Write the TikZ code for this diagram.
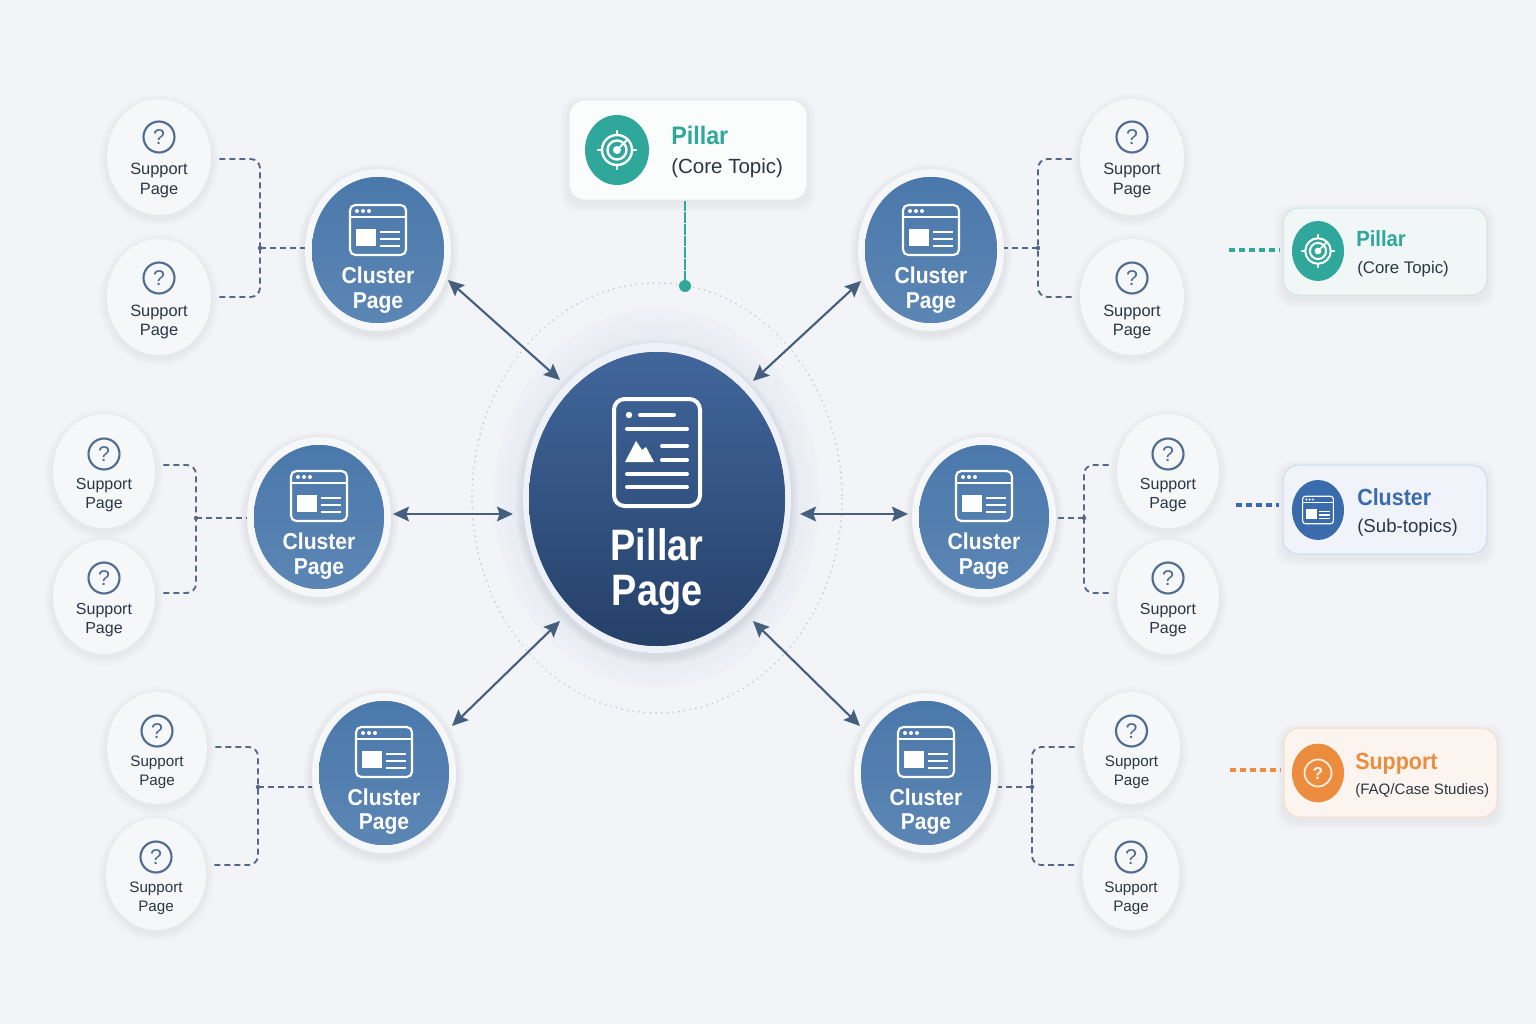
\documentclass[tikz,border=0pt]{standalone}
\usepackage{fontspec}
\setmainfont{Liberation Sans}
\newfontfamily\bfn[FakeStretch=0.92]{Liberation Sans}
\newfontfamily\bfp[FakeStretch=0.86]{Liberation Sans}
\usetikzlibrary{arrows.meta,shapes.geometric,calc}
\definecolor{bgc}{HTML}{F3F4F7}
\definecolor{ringc}{HTML}{F6F7F9}
\definecolor{icoc}{HTML}{4F6C91}
\definecolor{txtc}{HTML}{2C3645}
\definecolor{arrc}{HTML}{45607F}
\definecolor{dashc}{HTML}{56688A}
\definecolor{tealc}{HTML}{2FA79A}
\definecolor{bluec}{HTML}{3A6BAD}
\definecolor{orangec}{HTML}{EC8C3E}
\definecolor{cluT}{HTML}{4B78AB}
\definecolor{cluB}{HTML}{5B86B4}
\definecolor{halA}{HTML}{E6EAF2}
\definecolor{halB}{HTML}{EFF1F6}
\definecolor{dotc}{HTML}{C6CAD4}
\definecolor{pilR}{HTML}{EEF2F8}
\definecolor{pilT}{HTML}{41669B}
\definecolor{pilB}{HTML}{254069}
\definecolor{topD}{HTML}{E6E8EC}
\definecolor{topF}{HTML}{FBFCFC}
\definecolor{l1D}{HTML}{CFE5E0}
\definecolor{l1F}{HTML}{F0F7F6}
\definecolor{l2D}{HTML}{CDD9EC}
\definecolor{l2F}{HTML}{F0F4FA}
\definecolor{l3D}{HTML}{F6DCC5}
\definecolor{l3F}{HTML}{FCF5EF}
\definecolor{l3I}{HTML}{FDF0E4}
\tikzset{
  x=0.75pt,y=-0.75pt,
  supnode/.style={ellipse,fill=ringc,inner sep=0pt},
  clunode/.style={ellipse,fill=ringc,inner sep=0pt},
  suptext/.style={anchor=base,text=txtc,inner sep=0pt},
  clutext/.style={anchor=base,text=white,inner sep=0pt,font=\fontsize{17.2}{20}\bfn\bfseries},
  pilltext/.style={anchor=base,text=white,inner sep=0pt,font=\fontsize{33}{36}\bfp\bfseries},
  legbox/.style={rounded corners=12pt,inner sep=0pt,line width=0.75pt},
  legtitle/.style={anchor=base west,inner sep=0pt},
  legsub/.style={anchor=base west,inner sep=0pt,text=txtc},
  dblarrow/.style={{Stealth[length=12pt,width=11pt,inset=2pt]}-{Stealth[length=12pt,width=11pt,inset=2pt]},draw=arrc,line width=1.6pt},
  brk/.style={draw=dashc,line width=1.4pt,dash pattern=on 4.5pt off 3pt,rounded corners=7pt},
  legdash/.style={line width=2.3pt,dash pattern=on 4.5pt off 3pt},
}
% name cx cy rx ry iconDy textDy fontsize
\newcommand\SupNode[8]{%
  \begin{scope}[shift={(#2,#3)}]
    \foreach \k in {8,6,4,2}{\fill[black,opacity=.012] (0,3) ellipse [x radius=#4+\k,y radius=#5+\k];}
    \node[supnode,minimum width=#4*1.5pt,minimum height=#5*1.5pt] (#1) at (0,0) {};
    \draw[icoc,line width=1.6pt] (0,#6) circle [radius=15.5];
    \node[inner sep=0pt,text=icoc,font=\fontsize{16}{16}\selectfont] (#1-q) at (0,#6) {?};
    \node[suptext,font=\fontsize{#8}{14}\selectfont] (#1-a) at (0,#7) {Support};
    \node[suptext,font=\fontsize{#8}{14}\selectfont] (#1-b) at (0,#7+19) {Page};
  \end{scope}}
% browser icon, scaled
\newcommand\Browser[4]{% x y scale color
  \begin{scope}[shift={(#1,#2)},scale=#3]
    \draw[#4,line width=#3*1.6pt,rounded corners=#3*4pt] (-28,-25) rectangle (28,25);
    \draw[#4,line width=#3*1.5pt] (-28,-13) -- (28,-13);
    \foreach \q in {-21,-15,-9}{\fill[#4] (\q,-19) circle [radius=2];}
    \fill[#4] (-22,-1) rectangle (-2,16);
    \foreach \q in {2,9,16}{\draw[#4,line width=#3*1.5pt] (2,\q) -- (22,\q);}
  \end{scope}}
% name cx cy ox oy iconDy t1Dy t2Dy
\newcommand\CluNode[8]{%
  \begin{scope}[shift={(#2,#3)}]
    \foreach \k in {8,6,4,2}{\fill[black,opacity=.014] (0,3) ellipse [x radius=#4+\k,y radius=#5+\k];}
    \node[clunode,minimum width=#4*1.5pt,minimum height=#5*1.5pt] (#1) at (0,0) {};
    \fill[cluT!50!cluB] (0,0) ellipse [x radius=#4-7,y radius=#5-8];
    \shade[top color=cluT,bottom color=cluB] (0,0) ellipse [x radius=#4-7,y radius=#5-8];
  \end{scope}
  \Browser{#2}{#3+#6}{1}{white}
  \begin{scope}[shift={(#2,#3)}]
    \node[clutext] (#1-a) at (0,#7) {Cluster};
    \node[clutext] (#1-b) at (0,#8) {Page};
  \end{scope}}
\newcommand\Target[4]{% x y scale color
  \begin{scope}[shift={(#1,#2)},scale=#3]
    \draw[#4,line width=#3*1.8pt] (0,0) circle [radius=15];
    \draw[#4,line width=#3*1.8pt] (0,0) circle [radius=9.5];
    \fill[#4] (0,0) circle [radius=4];
    \draw[#4,line width=#3*1.4pt] (0,0) -- (10.5,-10.5);
    \foreach \q/\w/\e/\f in {0/-19/0/-15,0/19/0/15,-19/0/-15/0,19/0/15/0}{\draw[#4,line width=#3*1.8pt,line cap=round] (\q,\w) -- (\e,\f);}
  \end{scope}}
% s1 s2 side cluster cside jx ly1 ly2 jy
\newcommand\Brk[9]{%
  \coordinate (#1-j) at (#6,#9);
  \draw[brk,shorten <=6pt] (#1.#3 |- 0,#7) -- (#6,#7) -- (#1-j);
  \draw[brk,shorten <=6pt] (#2.#3 |- 0,#8) -- (#6,#8) -- (#1-j);
  \draw[brk,rounded corners=0pt] (#1-j) -- (#4.#5 |- #1-j);
  \fill[dashc] (#1-j) circle [radius=2.2];}
\newcommand\Shad[5]{% x1 y1 x2 y2 r
  \foreach \k in {8,6,4,2}{\fill[black,opacity=.012,rounded corners=#5pt] (#1-\k,#2-\k+4) rectangle (#3+\k,#4+\k+4);}}
\begin{document}
\begin{tikzpicture}
\useasboundingbox (0,0) rectangle (1536,1024);
\fill[bgc] (0,0) rectangle (1536,1024);
% halo and pillar
\foreach \t in {0,1,...,10}{\fill[halA!\the\numexpr\t*10\relax!halB] (657,498) ellipse [x radius=163-\t*3,y radius=190-\t*3.6];}
\draw[dotc,line width=1.2pt,line cap=round,dash pattern=on 0.3pt off 4pt] (657,498) ellipse [x radius=185,y radius=215];
\foreach \k in {8,6,4,2}{\fill[black,opacity=.014] (657,502) ellipse [x radius=134+\k,y radius=155+\k];}
\node[ellipse,fill=pilR,inner sep=0pt,minimum width=201pt,minimum height=232.5pt] (pillar) at (657,498) {};
\fill[pilT!50!pilB] (657,499) ellipse [x radius=128,y radius=147];
\shade[top color=pilT,bottom color=pilB] (657,499) ellipse [x radius=128,y radius=147];
% document icon
\draw[white,line width=3pt,rounded corners=8pt] (614,399) rectangle (700,506);
\fill[white] (629,415) circle [radius=3.2];
\foreach \a/\b/\c in {640/674/415,627/687/429,662/687/446,662/687/460,627/687/474,627/687/487}{\draw[white,line width=3pt,line cap=round] (\a,\c) -- (\b,\c);}
\fill[white,line join=round] (625,462) -- (636,441) -- (642,450) -- (646,447) -- (654,462) -- cycle;
\node[pilltext] (pillar-a) at (657,560) {Pillar};
\node[pilltext] (pillar-b) at (657,605) {Page};
% clusters
\CluNode{cTL}{378}{250}{73}{81}{-20}{33}{58}
\CluNode{cTR}{931}{250}{73}{81}{-20}{33}{58}
\CluNode{cL}{319}{517}{72}{80}{-21}{32}{57}
\CluNode{cR}{984}{517}{72}{80}{-21}{32}{57}
\CluNode{cBL}{384}{773}{72}{80}{-21}{32}{56}
\CluNode{cBR}{926}{773}{72}{80}{-21}{32}{56}
% support
\SupNode{s1}{159}{157}{52}{58}{-20}{18}{12.3}
\SupNode{s2}{159}{297}{52}{58}{-19}{19}{12.3}
\SupNode{s3}{1132}{157}{52}{58}{-20}{18}{12.3}
\SupNode{s4}{1132}{297}{52}{58}{-19}{19}{12.3}
\SupNode{s5}{104}{471}{51}{57}{-17}{18}{12}
\SupNode{s6}{104}{597}{51}{57}{-19}{17}{12}
\SupNode{s7}{1168}{471}{51}{57}{-17}{18}{12}
\SupNode{s8}{1168}{597}{51}{57}{-19}{17}{12}
\SupNode{s9}{157}{748}{50}{56}{-17}{18}{11.4}
\SupNode{s10}{156}{874}{50}{56}{-17}{18}{11.4}
\SupNode{s11}{1131.5}{748}{48.5}{56}{-17}{18}{11.4}
\SupNode{s12}{1131}{874}{48.5}{56}{-17}{18}{11.4}
% dashed brackets
\Brk{s1}{s2}{east}{cTL}{west}{260}{159}{297}{248}
\Brk{s3}{s4}{west}{cTR}{east}{1038}{159}{297}{248}
\Brk{s5}{s6}{east}{cL}{west}{196}{465}{593}{518}
\Brk{s7}{s8}{west}{cR}{east}{1084}{465}{593}{518}
\Brk{s9}{s10}{east}{cBL}{west}{258}{747}{865}{787}
\Brk{s11}{s12}{west}{cBR}{east}{1032}{747}{865}{787}
% arrows
\draw[dblarrow] ($(cTL)+(70,30)$) -- ($(pillar)+(-97,-118)$);
\draw[dblarrow] ($(cTR)+(-70,31)$) -- ($(pillar)+(96,-117)$);
\draw[dblarrow] ($(cL)+(74,-3)$) -- ($(pillar)+(-144,16)$);
\draw[dblarrow] ($(cR)+(-76,-3)$) -- ($(pillar)+(143,16)$);
\draw[dblarrow] ($(cBL)+(68,-47)$) -- ($(pillar)+(-97,123)$);
\draw[dblarrow] ($(cBR)+(-66,-47)$) -- ($(pillar)+(96,123)$);
% top legend
\Shad{569}{100}{807}{200}{12}
\node[legbox,draw=topD,fill=topF,minimum width=178.5pt,minimum height=75pt] (top) at (688,150) {};
\node[ellipse,fill=tealc,minimum width=48pt,minimum height=52.5pt,inner sep=0pt] (topc) at (617,150) {};
\Target{617}{150}{1}{white}
\node[legtitle,text=tealc,font=\fontsize{19}{22}\bfn\bfseries] (top-a) at (671,144) {Pillar};
\node[legsub,font=\fontsize{15.4}{18}\selectfont] (top-b) at (671,173) {(Core Topic)};
\node[circle,fill=tealc,minimum width=9pt,inner sep=0pt] (dot) at (685,286) {};
\draw[tealc,line width=1pt,dash pattern=on 8pt off 0.8pt] (top.south -| dot) -- (dot);
% legend pillar
\Shad{1283}{208}{1487}{295}{12}
\node[legbox,draw=l1D,fill=l1F,minimum width=153pt,minimum height=65.25pt] (l1) at (1385,251.5) {};
\node[ellipse,fill=tealc,minimum width=39pt,minimum height=45pt,inner sep=0pt] (l1c) at (1318,251) {};
\Target{1318}{251}{0.85}{white}
\node[legtitle,text=tealc,font=\fontsize{16.5}{20}\bfn\bfseries] (l1-a) at (1356,246) {Pillar};
\node[legsub,font=\fontsize{12.6}{15}\selectfont] (l1-b) at (1357,273) {(Core Topic)};
\coordinate (l1d) at (1229,250);
\draw[tealc,legdash] (l1d) -- ([xshift=-2.5pt]l1d -| l1.west);
% legend cluster
\Shad{1283}{465}{1487}{554}{12}
\node[legbox,draw=l2D,fill=l2F,minimum width=153pt,minimum height=66.75pt] (l2) at (1385,509.5) {};
\node[ellipse,fill=bluec,minimum width=39pt,minimum height=45pt,inner sep=0pt] (l2c) at (1318,510) {};
\Browser{1318}{510}{0.55}{white}
\node[legtitle,text=bluec,font=\fontsize{17.5}{20}\bfn\bfseries] (l2-a) at (1357,505) {Cluster};
\node[legsub,font=\fontsize{14}{17}\selectfont] (l2-b) at (1357,532) {(Sub-topics)};
\coordinate (l2d) at (1236,505);
\draw[bluec,legdash] (l2d) -- ([xshift=-2.5pt]l2d -| l2.west);
% legend support
\Shad{1284}{728}{1497}{817}{12}
\node[legbox,draw=l3D,fill=l3F,minimum width=159.75pt,minimum height=66.75pt] (l3) at (1390.5,772.5) {};
\node[ellipse,fill=orangec,minimum width=39pt,minimum height=44pt,inner sep=0pt] (l3c) at (1318,773) {};
\draw[l3I,line width=1.3pt] (1318,773) circle [radius=13.5];
\node[inner sep=0pt,text=l3I,font=\fontsize{13}{13}\selectfont\bfseries] (l3q) at (1318,773) {?};
\node[legtitle,text=orangec,font=\fontsize{17.5}{20}\bfn\bfseries] (l3-a) at (1355,769) {Support};
\node[legsub,font=\fontsize{11.3}{15}\selectfont] (l3-b) at (1355,794) {(FAQ/Case Studies)};
\coordinate (l3d) at (1230,770);
\draw[orangec,legdash] (l3d) -- ([xshift=-2.5pt]l3d -| l3.west);
\end{tikzpicture}
\end{document}
